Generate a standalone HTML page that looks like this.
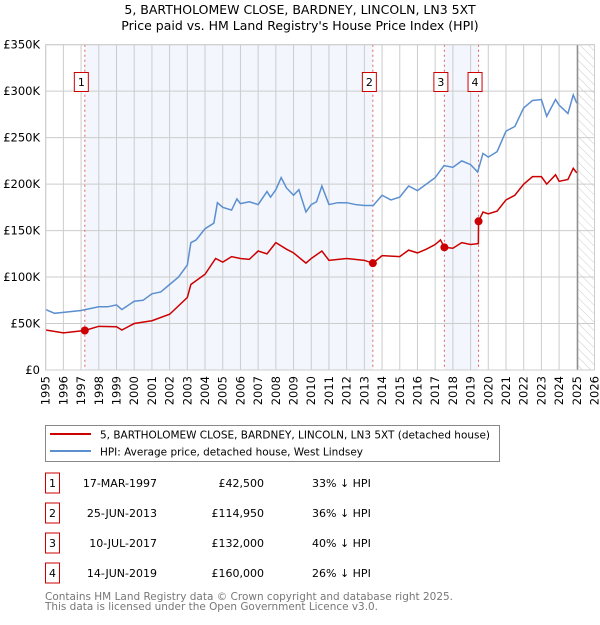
<!DOCTYPE html>
<html><head><meta charset="utf-8"><style>
body{margin:0;background:#fff;font-family:"Liberation Sans","DejaVu Sans",sans-serif;}
svg text{font-family:"DejaVu Sans","Liberation Sans",sans-serif;}
</style></head><body>
<svg id="chart" width="600" height="620" xmlns="http://www.w3.org/2000/svg">
<defs><pattern id="hatch" width="6" height="6" patternUnits="userSpaceOnUse" patternTransform="rotate(-45)"><line x1="0" y1="0" x2="0" y2="6" stroke="#ccc" stroke-width="1"/></pattern></defs>
<text x="300" y="14" text-anchor="middle" font-size="12.5">5, BARTHOLOMEW CLOSE, BARDNEY, LINCOLN, LN3 5XT</text>
<text x="300" y="30" text-anchor="middle" font-size="12.5">Price paid vs. HM Land Registry's House Price Index (HPI)</text>
<g id="plot"></g>
<g>
<rect x="45.5" y="425.5" width="454" height="36" fill="#fff" stroke="#888"/>
<line x1="50" y1="434" x2="91" y2="434" stroke="#cc0000" stroke-width="2"/>
<text x="100" y="438.5" font-size="10.5" textLength="390" lengthAdjust="spacingAndGlyphs">5, BARTHOLOMEW CLOSE, BARDNEY, LINCOLN, LN3 5XT (detached house)</text>
<line x1="50" y1="451" x2="91" y2="451" stroke="#5b8fd0" stroke-width="2"/>
<text x="100" y="455.5" font-size="10.5" textLength="263" lengthAdjust="spacingAndGlyphs">HPI: Average price, detached house, West Lindsey</text>
</g>
<g id="table" font-size="11"></g>
<text x="45" y="600" font-size="11" fill="#777" textLength="408" lengthAdjust="spacingAndGlyphs">Contains HM Land Registry data © Crown copyright and database right 2025.</text>
<text x="45" y="610" font-size="11" fill="#777" textLength="333" lengthAdjust="spacingAndGlyphs">This data is licensed under the Open Government Licence v3.0.</text>
</svg>
<script>
const hpiYears=[1995,1995.5,1996,1997,1997.5,1998,1998.5,1999,1999.3,2000,2000.5,2001,2001.5,2002,2002.5,2003,2003.2,2003.5,2004,2004.5,2004.7,2005,2005.5,2005.8,2006,2006.5,2007,2007.5,2007.7,2008,2008.3,2008.6,2009,2009.3,2009.7,2010,2010.3,2010.6,2011,2011.5,2012,2012.5,2013,2013.5,2014,2014.5,2015,2015.5,2016,2016.5,2017,2017.5,2018,2018.5,2019,2019.4,2019.7,2020,2020.5,2021,2021.5,2022,2022.5,2023,2023.3,2023.8,2024,2024.5,2024.8,2025];
const hpiValues=[65,61,62,64,66,68,68,70,65,74,75,82,84,92,100,113,137,140,152,158,180,175,172,184,179,181,178,192,186,194,207,196,188,194,170,178,181,198,178,180,180,178,177,177,188,183,186,198,193,200,207,220,218,225,221,213,233,229,235,257,262,282,290,291,273,291,285,276,296,287];
const ppYears=[1995,1996,1997.2,1998,1999,1999.3,2000,2001,2002,2003,2003.2,2004,2004.6,2005,2005.5,2006,2006.5,2007,2007.5,2008,2008.6,2009,2009.7,2010,2010.6,2011,2012,2013,2013.48,2014,2015,2015.5,2016,2016.5,2017,2017.3,2017.52,2018,2018.5,2019,2019.44,2019.45,2019.7,2020,2020.5,2021,2021.5,2022,2022.5,2023,2023.3,2023.8,2024,2024.5,2024.8,2025];
const ppValues=[43,40,42.5,47,46.5,43,50,53,60,78,92,103,120,116,122,120,119,128,125,137,130,126,115,120,128,118,120,118,114.95,123,122,129,126,130,135,140,132,131,137,135,136,160,170,168,171,183,188,200,208,208,200,210,203,205,217,212];
const saleIds=["1","2","3","4"];
const saleYears=[1997.21,2013.48,2017.52,2019.45];
const salePrices=[42.5,114.95,132,160];
const saleDates=["17-MAR-1997","25-JUN-2013","10-JUL-2017","14-JUN-2019"];
const salePriceLabels=["£42,500","£114,950","£132,000","£160,000"];
const saleHpi=["33% ↓ HPI","36% ↓ HPI","40% ↓ HPI","26% ↓ HPI"];
const yTicks=[0,50,100,150,200,250,300,350];
const yTickLabels=["£0","£50K","£100K","£150K","£200K","£250K","£300K","£350K"];
const xTicks=[];for(let y=1995;y<=2026;y++)xTicks.push(y);

const X0=45.7,X1=594.5,Y0=370,Y1=44.7;
const xs=v=>X0+(v-1995)/31*(X1-X0);
const ys=v=>Y0-v/350*(Y0-Y1);
const NS="http://www.w3.org/2000/svg";
const plot=document.getElementById('plot');
function mk(tag,attrs,parent){const e=document.createElementNS(NS,tag);for(const k in attrs)e.setAttribute(k,attrs[k]);(parent||plot).appendChild(e);return e;}

let r=mk('rect',{x:xs(saleYears[0]),y:Y1,width:xs(saleYears[1])-xs(saleYears[0]),height:Y0-Y1,fill:'#f3f6fd'});


r=mk('rect',{x:xs(saleYears[2]),y:Y1,width:xs(saleYears[3])-xs(saleYears[2]),height:Y0-Y1,fill:'#f3f6fd'});


r=mk('rect',{x:xs(2025.05),y:Y1,width:X1-xs(2025.05),height:Y0-Y1,fill:'url(#hatch)'});



xTicks.forEach(t=>{
  const l=mk('line',{x1:xs(t),x2:xs(t),y1:Y1,y2:Y0,stroke:'#ccc','stroke-width':1});
  
  
  const tx=mk('text',{x:0,y:0,'font-size':11.5,'text-anchor':'end',transform:`translate(${xs(t)+4},${Y0+6}) rotate(-90)`});
  tx.textContent=t;
  
  
});
yTicks.forEach((t,i)=>{
  const l=mk('line',{x1:X0,x2:X1,y1:ys(t),y2:ys(t),stroke:'#ccc','stroke-width':1});
  
  
  const tx=mk('text',{x:40,y:ys(t)+4,'font-size':11.5,'text-anchor':'end'});
  tx.textContent=yTickLabels[i];
  
  
});
r=mk('line',{x1:xs(2025.05),x2:xs(2025.05),y1:Y1,y2:Y0,stroke:'#888','stroke-width':1.2});



saleYears.forEach((y,i)=>{
  const l=mk('line',{x1:xs(y),x2:xs(y),y1:Y1,y2:Y0,stroke:'#e06060','stroke-width':1,'stroke-dasharray':'2,3'});
  
  
  const b=mk('rect',{x:xs(y)-10.5,y:72.5,width:14,height:19,fill:'#fff',stroke:'#cc0000'});
  
  
  const t=mk('text',{x:xs(y)-3.5,y:86,'font-size':11,'text-anchor':'middle'});
  t.textContent=saleIds[i];
  
  
});

let p=mk('polyline',{points:hpiYears.map((y,i)=>xs(y)+','+ys(hpiValues[i])).join(' '),fill:'none',stroke:'#5b8fd0','stroke-width':1.5});


p=mk('polyline',{points:ppYears.map((y,i)=>xs(y)+','+ys(ppValues[i])).join(' '),fill:'none',stroke:'#cc0000','stroke-width':1.5});


saleYears.forEach((y,i)=>{
  const c=mk('circle',{cx:xs(y),cy:ys(salePrices[i]),r:4,fill:'#cc0000'});
  
  
});
r=mk('rect',{x:X0,y:Y1,width:X1-X0,height:Y0-Y1,fill:'none',stroke:'#ccc'});



const tbl=document.getElementById('table');
saleIds.forEach((id,i)=>{
  const cy=483+i*30;
  const b=mk('rect',{x:45.5,y:cy-10,width:14,height:20,fill:'#fff',stroke:'#cc0000'},tbl);
  
  
  const t0=mk('text',{x:52.5,y:cy+4,'text-anchor':'middle'},tbl);t0.textContent=id;
  
  
  const t1=mk('text',{x:157,y:cy+4,'text-anchor':'end'},tbl);t1.textContent=saleDates[i];
  
  
  const t2=mk('text',{x:264,y:cy+4,'text-anchor':'end'},tbl);t2.textContent=salePriceLabels[i];
  
  
  const t3=mk('text',{x:312,y:cy+4},tbl);t3.textContent=saleHpi[i];
  
  
});
</script>
</body></html>
